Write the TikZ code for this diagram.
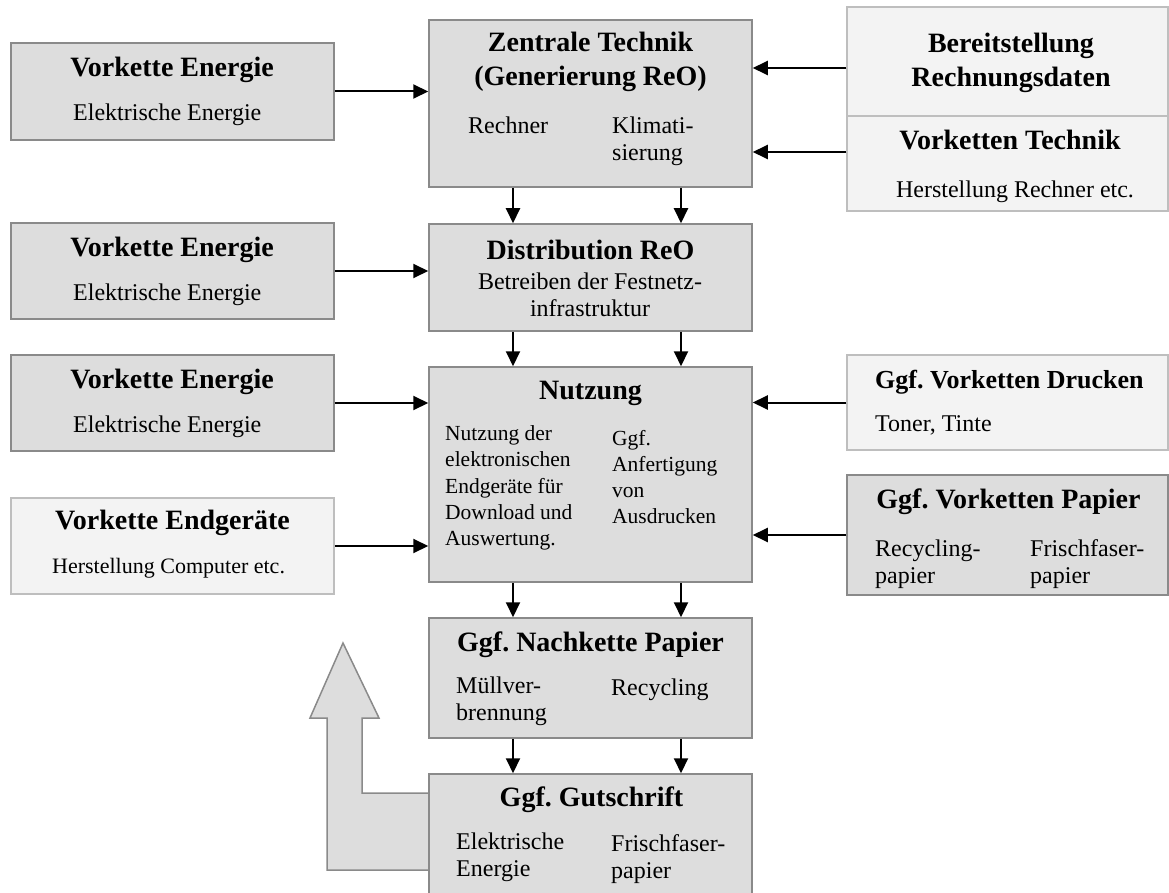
\documentclass[tikz,border=0pt]{standalone}
\usepackage{fontspec}
\setmainfont{Liberation Serif}
\usetikzlibrary{arrows.meta}
\frenchspacing

\definecolor{fillDark}{HTML}{DDDDDD}
\definecolor{fillLight}{HTML}{F3F3F3}
\definecolor{lineDark}{HTML}{8A8A8A}
\definecolor{lineLight}{HTML}{BEBEBE}

\tikzset{
  darkbox/.style={draw=lineDark, fill=fillDark, line width=1.5pt, minimum width=323pt, inner sep=0pt},
  lightbox/.style={draw=lineLight, fill=fillLight, line width=1.5pt, minimum width=321pt, inner sep=0pt},
  title/.style={font=\fontsize{28}{34}\selectfont\bfseries, inner sep=0pt, align=center},
  body/.style={font=\fontsize{24}{27}\selectfont, inner sep=0pt, anchor=west, align=left},
  smallbody/.style={body, font=\fontsize{21.5}{26.3}\selectfont},
  arr/.style={-{Triangle[length=15pt,width=14pt]}, line width=2pt},
}

\begin{document}
\begin{tikzpicture}[x=1pt,y=-1pt]
    \useasboundingbox (0,0) rectangle (1169,893);
    \clip (0,0) rectangle (1169,893);

    % feedback arrow (Gutschrift)
    \draw[draw=lineDark, fill=fillDark, line width=1.5pt]
        (429,793) -- (362,793) -- (362,718) -- (379,718) -- (343,643)
        -- (310,718) -- (327,718) -- (327,870) -- (429,870);

    % left column
    \node[darkbox, minimum height=97pt] (ve1) at (172.5,91.5) {};
    \node[darkbox, minimum height=96pt] (ve2) at (172.5,271) {};
    \node[darkbox, minimum height=96pt] (ve3) at (172.5,403) {};
    \node[lightbox, minimum width=323pt, minimum height=96pt] (endgeraete) at (172.5,546) {};

    % middle column
    \node[darkbox, minimum height=167pt] (zentrale) at (590.5,103.5) {};
    \node[darkbox, minimum height=107pt] (distrib) at (590.5,277.5) {};
    \node[darkbox, minimum height=215pt] (nutzung) at (590.5,474.5) {};
    \node[darkbox, minimum height=120pt] (nachkette) at (590.5,678) {};
    \node[darkbox, minimum height=126pt] (gutschrift) at (590.5,837) {};

    % right column
    \node[lightbox, minimum height=109pt] (bereit) at (1007.5,61.5) {};
    \node[lightbox, minimum height=95pt] (vtechnik) at (1007.5,163.5) {};
    \node[lightbox, minimum height=95pt] (drucken) at (1007.5,402.5) {};
    \node[darkbox, minimum width=321pt, minimum height=120pt] (papier) at (1007.5,535) {};

    % texts
    \node[title] (ve1t) at (172,70) {Vorkette Energie};
    \node[body] (ve1b) at (73,115) {Elektrische Energie};
    \node[title] (ve2t) at (172,250) {Vorkette Energie};
    \node[body] (ve2b) at (73,295) {Elektrische Energie};
    \node[title] (ve3t) at (172,382) {Vorkette Energie};
    \node[body] (ve3b) at (73,427) {Elektrische Energie};
    \node[title] (endt) at (172.5,523) {Vorkette Endgeräte};
    \node[body, font=\fontsize{22}{26}\selectfont] (endb) at (52,568) {Herstellung Computer etc.};

    \node[title] (zentt) at (590.5,62) {Zentrale Technik\\(Generierung ReO)};
    \node[body] (zentb1) at (468,125) {Rechner};
    \node[body] (zentb2) at (612,141) {Klimati-\\sierung};
    \node[title] (distt) at (590.5,250) {Distribution ReO};
    \node[body, align=center, anchor=center] (distb) at (590,295) {Betreiben der Festnetz-\\infrastruktur};
    \node[title] (nutzt) at (590.5,393) {Nutzung};
    \node[smallbody] (nutzb1) at (445,488) {Nutzung der\\elektronischen\\Endgeräte für\\Download und\\Auswertung.};
    \node[smallbody] (nutzb2) at (612,477) {Ggf.\\Anfertigung\\von\\Ausdrucken};
    \node[title] (nacht) at (590.5,645) {Ggf. Nachkette Papier};
    \node[body] (nachb1) at (456,701) {Müllver-\\brennung};
    \node[body] (nachb2) at (611,690) {Recycling};
    \node[title] (gutt) at (591.5,800) {Ggf. Gutschrift};
    \node[body] (gutb1) at (456,857) {Elektrische\\Energie};
    \node[body] (gutb2) at (611,859) {Frischfaser-\\papier};

    \node[title] (bert) at (1011,63) {Bereitstellung\\Rechnungsdaten};
    \node[title] (vtect) at (1010,140) {Vorketten Technik};
    \node[body, anchor=center] (vtecb) at (1015,192) {Herstellung Rechner etc.};
    \node[title, anchor=west, font=\fontsize{26}{30}\selectfont\bfseries] (druckt) at (875,382) {Ggf. Vorketten Drucken};
    \node[body] (druckb) at (875,425) {Toner, Tinte};
    \node[title] (papt) at (1008.5,502) {Ggf. Vorketten Papier};
    \node[body] (papb1) at (875,564) {Recycling-\\papier};
    \node[body] (papb2) at (1030,564) {Frischfaser-\\papier};

    % arrow positions
    \coordinate (cl) at (513,0);
    \coordinate (cr) at (681,0);
    \coordinate (r1) at (0,68);
    \coordinate (r2) at (0,152);

    % arrows
    \draw[arr] (ve1.east) -- (ve1.east -| zentrale.west);
    \draw[arr] (ve2.east) -- (ve2.east -| distrib.west);
    \draw[arr] (ve3.east) -- (ve3.east -| nutzung.west);
    \draw[arr] (endgeraete.east) -- (endgeraete.east -| nutzung.west);
    \draw[arr] (bereit.west |- r1) -- (zentrale.east |- r1);
    \draw[arr] (vtechnik.west |- r2) -- (zentrale.east |- r2);
    \draw[arr] (drucken.west) -- (drucken.west -| nutzung.east);
    \draw[arr] (papier.west) -- (papier.west -| nutzung.east);
    \foreach \a/\b in {zentrale/distrib, distrib/nutzung, nutzung/nachkette, nachkette/gutschrift}
      \foreach \c in {cl,cr}
        \draw[arr] (\a.south -| \c) -- (\b.north -| \c);
\end{tikzpicture}
\end{document}
